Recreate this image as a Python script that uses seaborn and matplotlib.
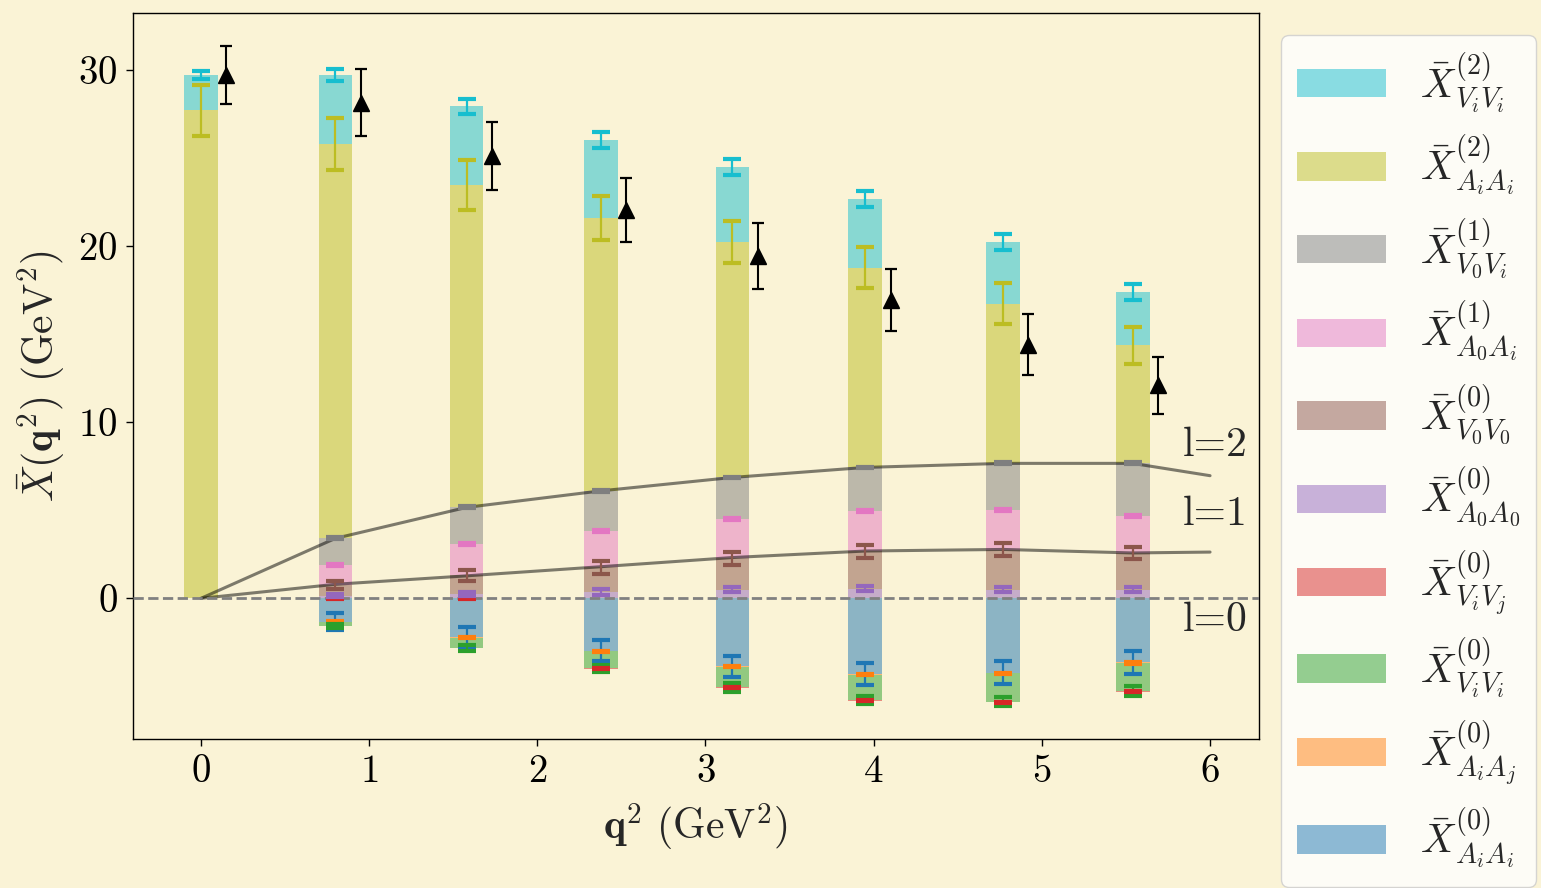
import numpy as np
import matplotlib
matplotlib.use("Agg")
import matplotlib.pyplot as plt
from matplotlib.patches import Patch
import seaborn as sns

# ---- data -------------------------------------------------------------
q2 = [0.0, 0.80, 1.58, 2.38, 3.16, 3.95, 4.77, 5.54]

# contributions (GeV^2) and their uncertainties, one array per channel
x_AiAi0 = [0.0, -1.33, -2.22, -2.98, -3.85, -4.30, -4.23, -3.64]
e_AiAi0 = [0.0, 0.48, 0.59, 0.59, 0.60, 0.60, 0.66, 0.64]
x_AiAj0 = [0.0, -0.02, -0.02, -0.03, -0.03, -0.03, -0.03, -0.03]
e_AiAj0 = [0.0, 0.04, 0.04, 0.04, 0.04, 0.04, 0.04, 0.04]
x_ViVi0 = [0.0, -0.21, -0.57, -0.97, -1.18, -1.45, -1.61, -1.60]
e_ViVi0 = [0.0, 0.12, 0.16, 0.20, 0.24, 0.25, 0.27, 0.27]
x_ViVj0 = [0.0, 0.02, 0.02, -0.03, -0.03, -0.03, -0.03, -0.03]
e_ViVj0 = [0.0, 0.03, 0.03, 0.03, 0.03, 0.03, 0.03, 0.03]
x_A0A00 = [0.0, 0.13, 0.24, 0.38, 0.50, 0.55, 0.50, 0.50]
e_A0A00 = [0.0, 0.07, 0.12, 0.17, 0.13, 0.14, 0.15, 0.15]
x_V0V00 = [0.0, 0.62, 1.04, 1.38, 1.77, 2.12, 2.27, 2.08]
e_V0V00 = [0.0, 0.23, 0.31, 0.38, 0.38, 0.36, 0.37, 0.33]
x_A0Ai1 = [0.0, 1.12, 1.79, 2.08, 2.23, 2.29, 2.25, 2.10]
e_A0Ai1 = [0.0, 0.05, 0.05, 0.05, 0.05, 0.05, 0.05, 0.05]
x_V0Vi1 = [0.0, 1.52, 2.08, 2.27, 2.37, 2.48, 2.65, 2.99]
e_V0Vi1 = [0.0, 0.05, 0.05, 0.05, 0.05, 0.05, 0.05, 0.05]
x_AiAi2 = [27.74, 22.40, 18.31, 15.48, 13.39, 11.34, 9.07, 6.72]
e_AiAi2 = [1.45, 1.50, 1.43, 1.25, 1.20, 1.16, 1.15, 1.05]
x_ViVi2 = [1.99, 3.92, 4.49, 4.45, 4.25, 3.91, 3.50, 3.01]
e_ViVi2 = [0.25, 0.36, 0.43, 0.44, 0.47, 0.47, 0.47, 0.47]

# total from the full correlator (triangles), shown slightly offset in q^2
total = [29.74, 28.17, 25.13, 22.07, 19.45, 16.94, 14.41, 12.10]
total_err = [1.63, 1.90, 1.93, 1.83, 1.86, 1.75, 1.74, 1.63]
total_shift = 0.15

# partial sums up to a given angular momentum l
curve_q2 = [0.0, 0.80, 1.58, 2.38, 3.16, 3.95, 4.77, 5.54, 6.0]
curve_l2 = [0.0, 3.41, 5.17, 6.11, 6.87, 7.44, 7.67, 7.67, 6.97]
curve_l1 = [0.0, 0.80, 1.28, 1.80, 2.32, 2.69, 2.78, 2.58, 2.63]

channels = [
    (r"$\bar{X}^{(0)}_{A_iA_i}$", x_AiAi0, e_AiAi0, "tab:blue"),
    (r"$\bar{X}^{(0)}_{A_iA_j}$", x_AiAj0, e_AiAj0, "tab:orange"),
    (r"$\bar{X}^{(0)}_{V_iV_i}$", x_ViVi0, e_ViVi0, "tab:green"),
    (r"$\bar{X}^{(0)}_{V_iV_j}$", x_ViVj0, e_ViVj0, "tab:red"),
    (r"$\bar{X}^{(0)}_{A_0A_0}$", x_A0A00, e_A0A00, "tab:purple"),
    (r"$\bar{X}^{(0)}_{V_0V_0}$", x_V0V00, e_V0V00, "tab:brown"),
    (r"$\bar{X}^{(1)}_{A_0A_i}$", x_A0Ai1, e_A0Ai1, "tab:pink"),
    (r"$\bar{X}^{(1)}_{V_0V_i}$", x_V0Vi1, e_V0Vi1, "tab:gray"),
    (r"$\bar{X}^{(2)}_{A_iA_i}$", x_AiAi2, e_AiAi2, "tab:olive"),
    (r"$\bar{X}^{(2)}_{V_iV_i}$", x_ViVi2, e_ViVi2, "tab:cyan"),
]

# ---- style ------------------------------------------------------------
bg = "#FAF3D6"
sns.set_theme(style="ticks")
plt.rcParams.update({
    "font.family": "serif",
    "font.serif": ["cmr10"],
    "mathtext.fontset": "cm",
    "axes.formatter.use_mathtext": True,
    "axes.unicode_minus": False,
    "axes.edgecolor": "black",
    "axes.linewidth": 1.0,
    "xtick.color": "black",
    "ytick.color": "black",
    "xtick.major.size": 5,
    "ytick.major.size": 5,
    "xtick.major.width": 1.0,
    "ytick.major.width": 1.0,
    "xtick.major.pad": 6,
    "ytick.major.pad": 6,
})

fig = plt.figure(figsize=(15.41, 8.88), dpi=100, facecolor=bg)
ax = fig.add_axes([0.0863, 0.1678, 0.7307, 0.8176])
ax.set_facecolor(bg)

q2_arr = np.asarray(q2)
bar_w = 0.20
width_param = bar_w / np.diff(q2_arr).min()

# ---- stacked bars: positives stack upward, negatives downward ---------
pos_base = np.zeros(len(q2))
neg_base = np.zeros(len(q2))
err_specs = []
for label, vals, errs, col in channels:
    v = np.asarray(vals, dtype=float)
    bottom = np.where(v >= 0, pos_base, neg_base)
    sns.barplot(x=q2_arr, y=v, native_scale=True, width=width_param,
                color=col, saturation=1, errorbar=None, ax=ax,
                bottom=bottom, alpha=0.5, linewidth=0, zorder=2)
    tip = bottom + v
    err_specs.append((tip, np.asarray(errs, dtype=float), v, col))
    pos_base = np.where(v >= 0, tip, pos_base)
    neg_base = np.where(v < 0, tip, neg_base)

for tip, errs, v, col in err_specs:
    keep = (v != 0) | (errs > 0)
    ax.errorbar(q2_arr[keep], tip[keep], yerr=errs[keep], fmt="none",
                ecolor=col, elinewidth=1.6, capsize=6.8, capthick=3.0,
                zorder=4)

# ---- total with uncertainties ------------------------------------------
ax.errorbar(q2_arr + total_shift, total, yerr=total_err, fmt="^",
            color="black", ms=12, elinewidth=1.5, capsize=4.5,
            capthick=1.6, zorder=5)

# ---- partial sums in l and zero line -------------------------------------
sns.lineplot(x=curve_q2, y=curve_l2, color="black", alpha=0.5, lw=2.2,
             sort=False, ax=ax, zorder=3)
sns.lineplot(x=curve_q2, y=curve_l1, color="black", alpha=0.5, lw=2.2,
             sort=False, ax=ax, zorder=3)
ax.axhline(0, color="gray", ls="--", lw=2.0, zorder=3)

for txt, yv in [("l=2", 8.7), ("l=1", 4.75), ("l=0", -1.25)]:
    ax.text(6.03, yv, txt, fontsize=30, ha="center", va="center")

# ---- axes ------------------------------------------------------------------
ax.set_xlim(-0.404, 6.291)
ax.set_ylim(-7.99, 33.26)
ax.set_xticks(range(0, 7))
ax.set_yticks([0, 10, 20, 30])
ax.tick_params(labelsize=28, direction="out")
for s in ax.spines.values():
    s.set_visible(True)
    s.set_color("black")
ax.set_xlabel(r"$\mathbf{q}^2\ (\mathrm{GeV}^2)$", fontsize=30, labelpad=8)
ax.set_ylabel(r"$\bar{X}(\mathbf{q}^2)\ (\mathrm{GeV}^2)$", fontsize=30,
              labelpad=8)

# ---- legend (reverse stacking order) ---------------------------------------
handles = [Patch(facecolor=col, alpha=0.5, edgecolor="none")
           for _, _, _, col in channels[::-1]]
labels = [lab for lab, _, _, _ in channels[::-1]]
ax.legend(handles, labels, loc="upper left", bbox_to_anchor=(1.0195, 0.9697),
          borderaxespad=0, fontsize=29, frameon=True, framealpha=0.8,
          facecolor="white", edgecolor="0.8", handlelength=2.2,
          handletextpad=0.85, labelspacing=0.48, borderpad=0.4)

fig.savefig("out.png", dpi=100, facecolor=bg)
